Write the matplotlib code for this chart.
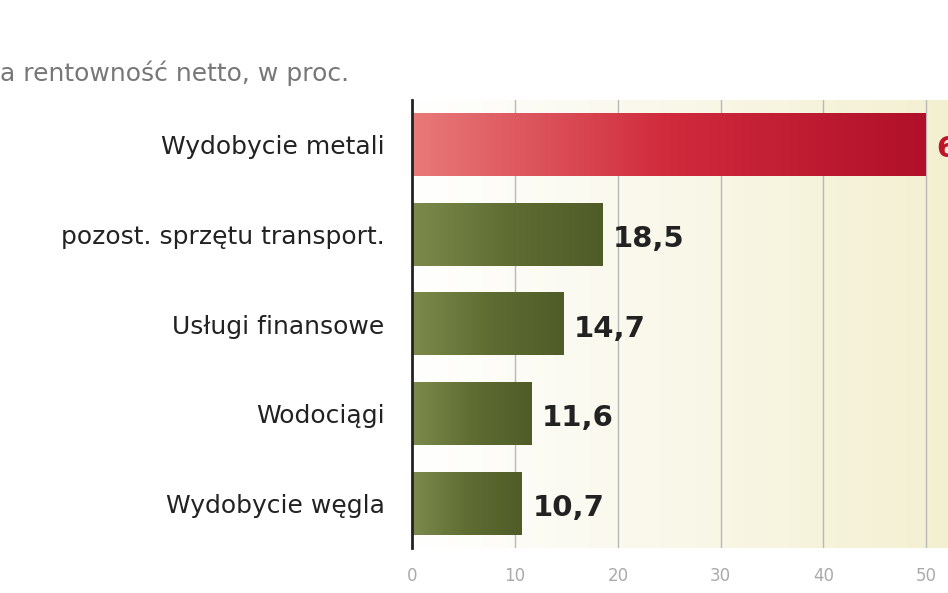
import matplotlib.pyplot as plt
import numpy as np
from matplotlib.colors import LinearSegmentedColormap

categories = ["Wydobycie metali", "pozost. sprzętu transport.",
              "Usługi finansowe", "Wodociągi", "Wydobycie węgla"]
values = [50, 18.5, 14.7, 11.6, 10.7]
labels = ["6", "18,5", "14,7", "11,6", "10,7"]
ticks = [0, 10, 20, 30, 40, 50]

fig = plt.figure(figsize=(9.48, 5.93), dpi=100)
ax = fig.add_axes([0.435, 0.076, 0.596, 0.755])

# background gradient white -> light beige
bg = LinearSegmentedColormap.from_list("bg", ["#ffffff", "#f3efcf"])
ax.imshow(np.linspace(0, 1, 256).reshape(1, -1), cmap=bg, aspect="auto",
          extent=[0, 55, len(categories) - 0.5, -0.5], zorder=0)
for t in ticks[1:]:
    ax.axvline(t, color="#b8b8b8", lw=1, zorder=1)

red = LinearSegmentedColormap.from_list("red", ["#e87a78", "#d02a3c", "#b0102a"])
green = LinearSegmentedColormap.from_list("green", ["#7d8a4c", "#5f6d33", "#4f5c28"])
h = 0.7
for i, v in enumerate(values):
    cm = red if i == 0 else green
    ax.imshow(np.linspace(0, 1, 256).reshape(1, -1), cmap=cm, aspect="auto",
              extent=[0, v, i + h / 2, i - h / 2], zorder=2)
    col = "#c0142c" if i == 0 else "#222222"
    ax.text(v + 1.0, i + 0.05, labels[i], va="center", ha="left",
            fontsize=21, fontweight="bold", color=col, zorder=3)
ax.set_xlim(0, 55)
ax.set_ylim(len(categories) - 0.5, -0.5)

ax.set_yticks(range(len(categories)))
ax.set_yticklabels(categories, fontsize=18, color="#222222")
ax.tick_params(axis="y", length=0, pad=20)
ax.set_xticks(ticks)
ax.set_xticklabels([str(t) for t in ticks], fontsize=12, color="#aaaaaa")
ax.tick_params(axis="x", length=0, pad=14)
for s in ["top", "right", "bottom"]:
    ax.spines[s].set_visible(False)
ax.spines["left"].set_color("#222222")
ax.spines["left"].set_linewidth(2)

fig.text(0.0, 0.855, "a rentowność netto, w proc.", fontsize=18,
         color="#777777", va="bottom")

fig.savefig("out.png", dpi=100)
